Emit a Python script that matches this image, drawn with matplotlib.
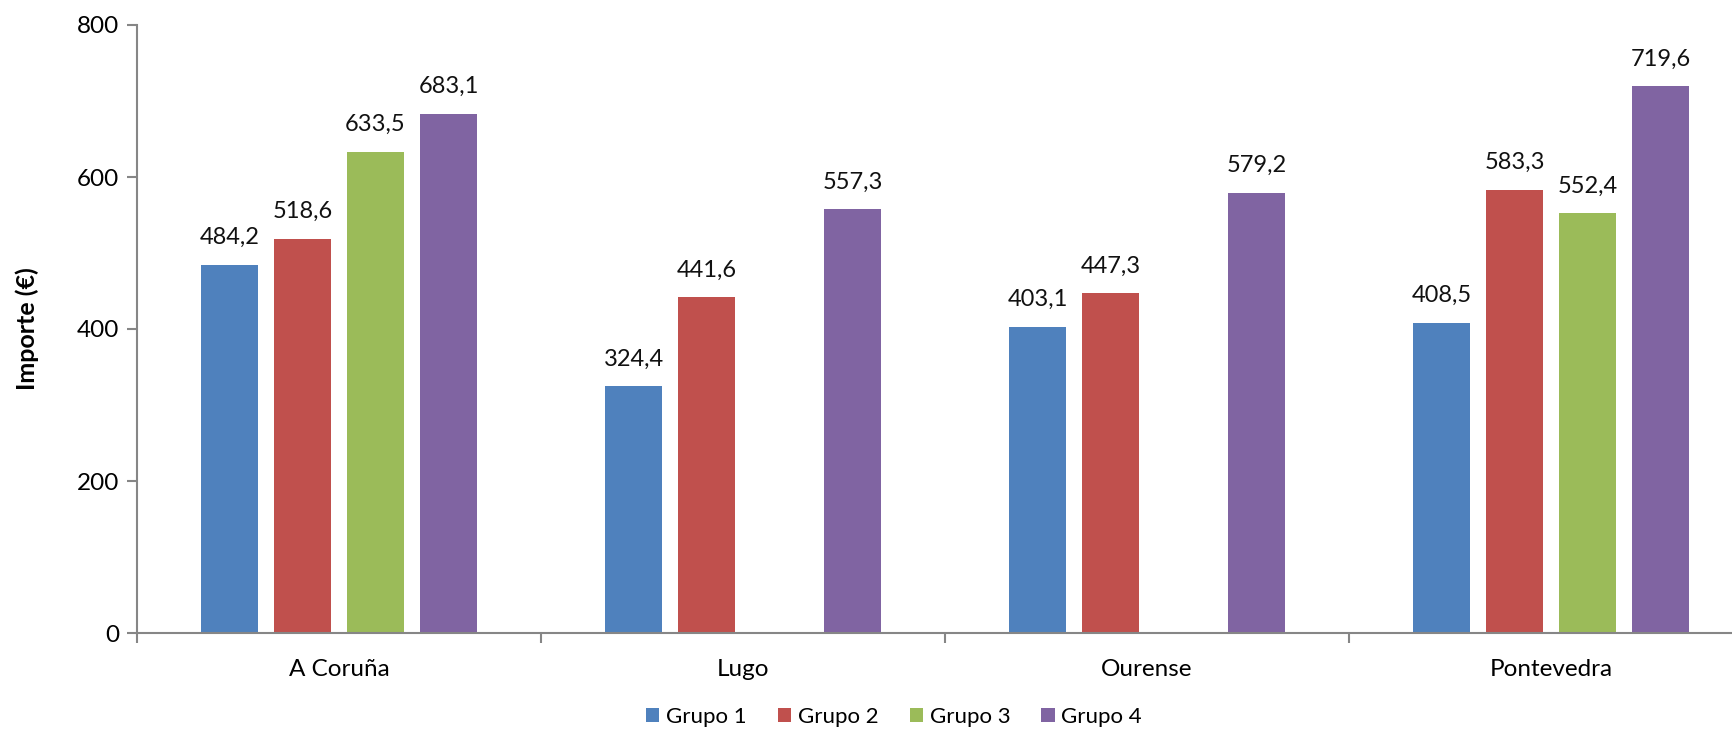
import matplotlib
matplotlib.use("Agg")
import matplotlib.pyplot as plt
import numpy as np

categories = ["A Coruña", "Lugo", "Ourense", "Pontevedra"]
series = ["Grupo 1", "Grupo 2", "Grupo 3", "Grupo 4"]
grupo1 = [484.2, 324.4, 403.1, 408.5]
grupo2 = [518.6, 441.6, 447.3, 583.3]
grupo3 = [633.5, None, None, 552.4]
grupo4 = [683.1, 557.3, 579.2, 719.6]
values = [grupo1, grupo2, grupo3, grupo4]
colors = ["#4F81BD", "#C0504D", "#9BBB59", "#8064A2"]
yticks = [0, 200, 400, 600, 800]

plt.rcParams['font.family'] = ['Lato', 'DejaVu Sans']

W, H = 1732, 730
fig = plt.figure(figsize=(W / 100, H / 100), dpi=100)
left, right_px, bottom_px, top_px = 137, 1753, 633, 25
ax = fig.add_axes([left / W, (H - bottom_px) / H, (right_px - left) / W, (bottom_px - top_px) / H])

x = np.arange(len(categories))
bw = 0.142
step = 0.1806
for i, (name, vals, c) in enumerate(zip(series, values, colors)):
    off = (i - 1.5) * step
    xs = [xx + off for xx, v in zip(x, vals) if v is not None]
    vs = [v for v in vals if v is not None]
    bars = ax.bar(xs, vs, width=bw, color=c, label=name, zorder=2)
    for b, v in zip(bars, vs):
        ax.annotate(f"{v:.1f}".replace(".", ","), (b.get_x() + b.get_width() / 2, v),
                    xytext=(0, 12), textcoords="offset points", ha="center", va="bottom",
                    fontsize=17, color="#111111")

ax.set_xlim(-0.5, len(categories) - 0.5)
ax.set_ylim(0, 800)
ax.set_yticks(yticks)
ax.set_yticklabels([str(t) for t in yticks], fontsize=17.5)
ax.set_xticks(x)
ax.set_xticklabels(categories, fontsize=17.5)
ax.set_xticks(np.arange(len(categories) + 1) - 0.5, minor=True)
ax.tick_params(axis='x', which='major', length=0, pad=19)
ax.tick_params(axis='x', which='minor', length=7, color="#868686", width=1.5)
ax.tick_params(axis='y', length=7, color="#868686", width=1.5, pad=6)
for s in ["top", "right"]:
    ax.spines[s].set_visible(False)
for s in ["left", "bottom"]:
    ax.spines[s].set_color("#868686")
    ax.spines[s].set_linewidth(1.5)

ax.set_ylabel("Importe (€)", fontsize=18, fontweight="bold")
ax.yaxis.set_label_coords((39 - left) / (right_px - left), 0.5)

fig.legend(loc="center", bbox_to_anchor=(894 / W, 1 - 717 / H), ncol=4, frameon=False,
           fontsize=16, handlelength=0.6, handleheight=0.6, handletextpad=0.3, columnspacing=1.4)

fig.savefig("out.png", dpi=100)
